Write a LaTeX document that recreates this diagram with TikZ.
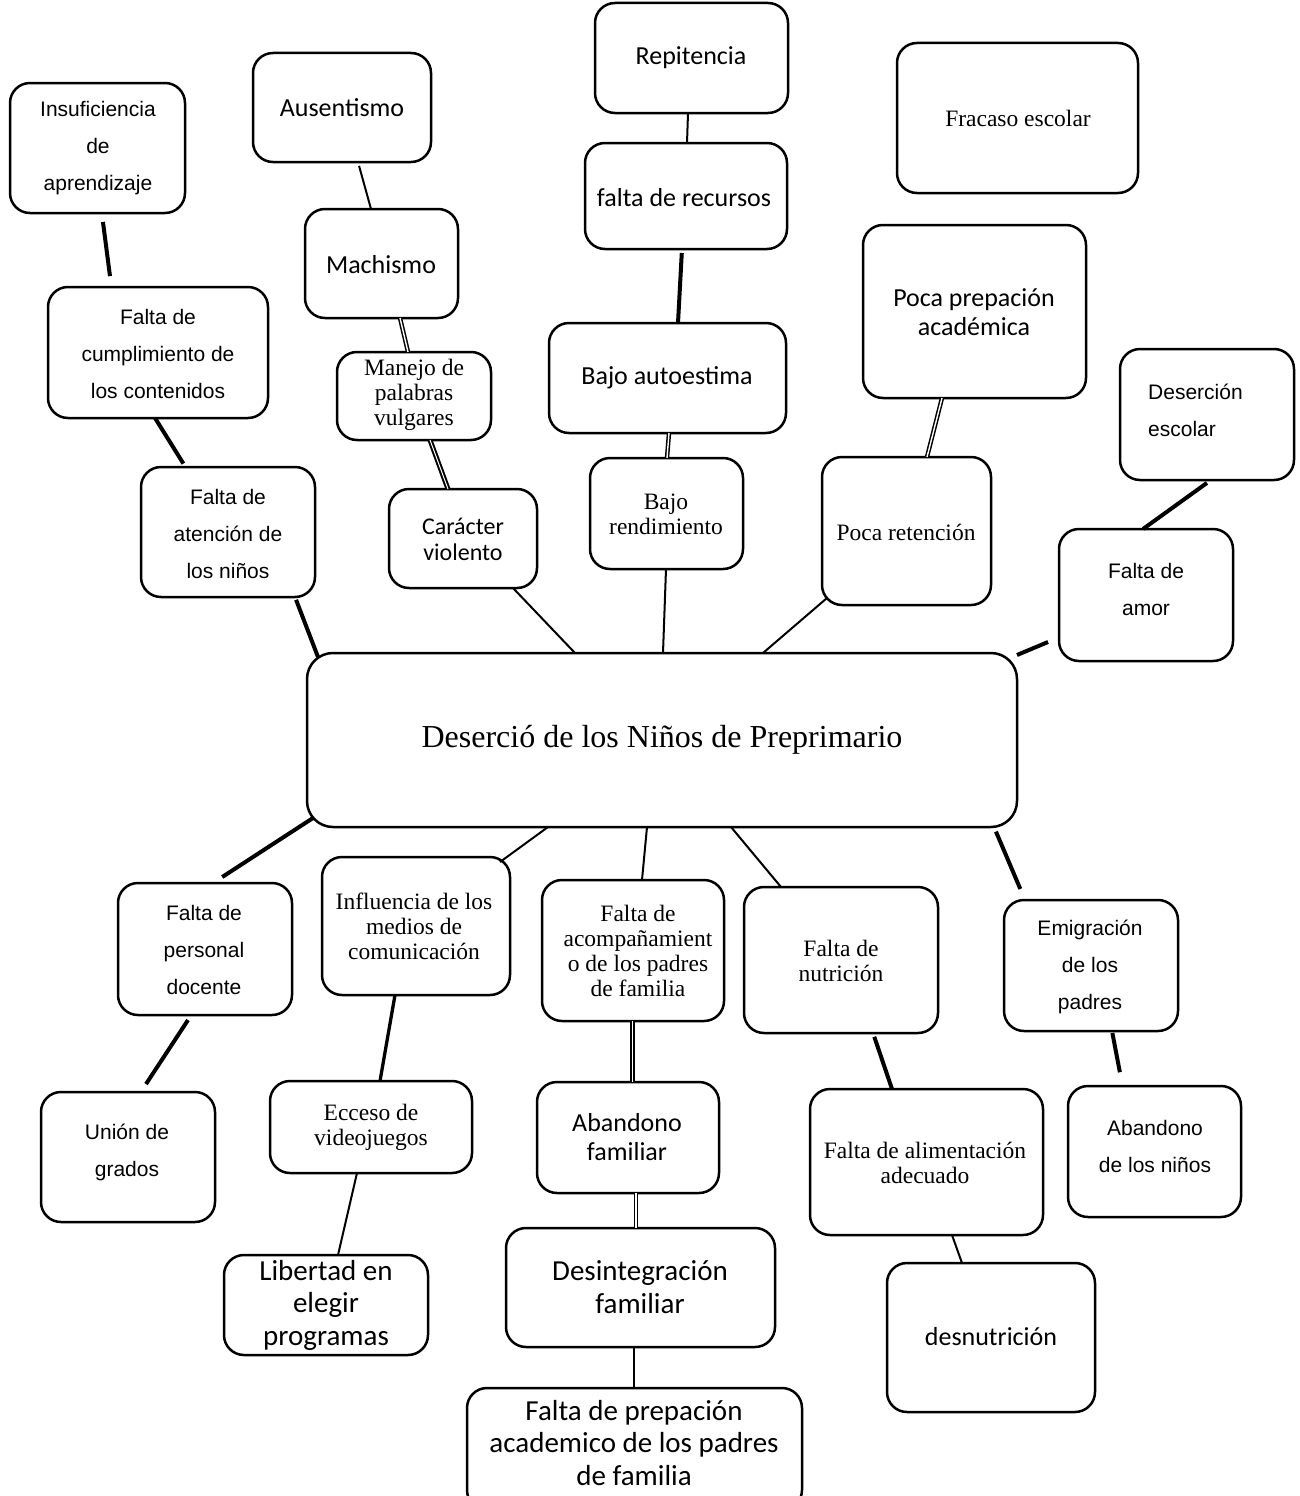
\documentclass[tikz,border=0pt]{standalone}
\usepackage{fontspec}
\setmainfont{Liberation Serif}
\newfontfamily\arialf{Liberation Sans}
\newfontfamily\calf{Carlito}
\tikzset{
 box/.style={draw, line width=2.5pt, rounded corners=20pt, inner sep=0pt, outer sep=0pt},
 ar/.style={font=\arialf\fontsize{21}{37}\selectfont, align=center, inner sep=0pt},
 tr/.style={font=\fontsize{23.5}{25}\selectfont, align=center, inner sep=0pt},
 trb/.style={font=\fontsize{32}{36}\selectfont, align=center, inner sep=0pt},
 ca/.style={font=\calf\fontsize{26}{29}\selectfont, align=center, inner sep=0pt},
 cs/.style={font=\calf\fontsize{24}{26}\selectfont, align=center, inner sep=0pt},
 cb/.style={font=\calf\fontsize{29}{32.5}\selectfont, align=center, inner sep=0pt},
 con/.style={line width=2pt},
 thk/.style={line width=4pt},
 dbl/.style={double, double distance=1.4pt, line width=1.5pt},
 dblh/.style={double, double distance=1pt, line width=2pt},
}
% name, x1, y1, x2, y2, text style, text x, text y, text
\newcommand\bx[9]{%
 \node[box, minimum width={(#4-#2)*1pt}, minimum height={(#5-#3)*1pt}] (#1) at ({(#2+#4)/2},{(#3+#5)/2}) {};
 \node[#6] (#1t) at (#7,#8) {#9};}
\begin{document}
\begin{tikzpicture}[x=1pt,y=-1pt]
\useasboundingbox (0,0) rectangle (1299,1496);
% top half
\bx{ins}{10}{83}{185}{213}{ar}{98}{148.5}{Insuficiencia\\de\\aprendizaje}
\bx{aus}{253}{53}{431}{162}{ca}{342}{108}{Ausentismo}
\bx{mach}{305}{209}{458}{318}{ca}{381}{265}{Machismo}
\bx{rep}{595}{3}{788}{113}{ca}{691}{58}{Repitencia}
\bx{rec}{585}{143}{787}{249}{ca}{684}{198}{falta de recursos}
\bx{frac}{897}{43}{1138}{193}{tr}{1018}{118}{Fracaso escolar}
\bx{pprep}{863}{225}{1086}{398}{ca}{974}{312}{Poca prepación\\académica}
\bx{cump}{48}{287}{268}{418}{ar}{158}{353.5}{Falta de\\cumplimiento de\\los contenidos}
\bx{man}{337}{352}{491}{440}{tr}{414}{395}{Manejo de\\palabras\\vulgares}
\bx{baut}{549}{323}{786}{433}{ca}{667}{378}{Bajo autoestima}
\bx{dese}{1120}{349}{1294}{480}{ar,align=left,anchor=west}{1148}{410}{Deserción\\escolar}
\bx{atn}{141}{467}{315}{597}{ar}{228}{533.5}{Falta de\\atención de\\los niños}
\bx{car}{389}{489}{537}{588}{cs}{463}{539}{Carácter\\violento}
\bx{brend}{590}{458}{743}{569}{tr}{666}{514.5}{Bajo\\rendimiento}
\bx{pret}{822}{457}{991}{605}{tr}{906}{532}{Poca retención}
\bx{amor}{1059}{529}{1233}{661}{ar}{1146}{589}{Falta de\\amor}
% central
\node[box, rounded corners=26pt, minimum width=710pt, minimum height=174pt] (cen) at (662,740) {};
\node[trb] (cent) at (662,740) {Deserció de los Niños de Preprimario};
% bottom half
\bx{fpers}{118}{883}{292}{1015}{ar}{204}{950}{Falta de\\personal\\docente}
\bx{infl}{322}{857}{510}{995}{tr}{414}{926}{Influencia de los\\medios de\\comunicación}
\bx{acomp}{542}{880}{724}{1021}{tr}{638}{950.5}{Falta de\\acompañamient\\o de los padres\\de familia}
\bx{nutr}{744}{887}{938}{1033}{tr}{841}{960.5}{Falta de\\nutrición}
\bx{emig}{1004}{900}{1178}{1031}{ar}{1090}{967}{Emigración\\de los\\padres}
\bx{union}{41}{1092}{215}{1222}{ar}{127}{1152.5}{Unión de\\grados}
\bx{ecc}{270}{1081}{472}{1173}{tr}{371}{1127}{Ecceso de\\videojuegos}
\bx{abfam}{537}{1082}{719}{1193}{ca}{627}{1137.5}{Abandono\\familiar}
\bx{alim}{810}{1089}{1043}{1235}{tr}{925}{1162.5}{Falta de alimentación\\adecuado}
\bx{abnin}{1068}{1086}{1241}{1217}{ar}{1155}{1146.5}{Abandono\\de los niños}
\bx{lib}{224}{1255}{428}{1355}{cb}{326}{1305}{Libertad en\\elegir\\programas}
\bx{desint}{506}{1228}{775}{1347}{cb}{640}{1287}{Desintegración\\familiar}
\bx{desn}{887}{1263}{1095}{1412}{ca}{991}{1337}{desnutrición}
\bx{fprep}{467}{1388}{802}{1510}{cb}{634}{1443}{Falta de prepación\\academico de los padres\\de familia}
% connectors
\draw[thk, shorten <=9pt, shorten >=11pt] ([xshift=4.3pt]ins.south) -- ([xshift=-46.6pt]cump.north);
\draw[thk, shorten >=4pt] ([xshift=-3pt]cump.south) -- ([xshift=-42.5pt]atn.north);
\draw[thk, shorten <=3pt] ([xshift=67pt]atn.south) -- ([xshift=-344pt,yshift=-4pt]cen.north);
\draw[con, shorten <=4pt] ([xshift=16pt]aus.south) -- ([xshift=-10.5pt]mach.north);
\draw[dbl] ([xshift=18.5pt]mach.south) -- ([xshift=-6pt]man.north);
\draw[dblh] ([xshift=16pt]man.south) -- ([xshift=-15pt]car.north);
\draw[con] ([xshift=50pt]car.south) -- ([xshift=-87pt]cen.north);
\draw[con] ([xshift=-3.5pt]rep.south) -- ([xshift=1pt]rec.north);
\draw[thk, shorten <=4pt] ([xshift=-4pt]rec.south) -- ([xshift=10.5pt]baut.north);
\draw[dbl] ([xshift=1.5pt]baut.south) -- ([xshift=0.5pt]brend.north);
\draw[con] ([xshift=-0.5pt]brend.south) -- ([xshift=1pt]cen.north);
\draw[dbl] ([xshift=-32.5pt]pprep.south) -- ([xshift=20.5pt]pret.north);
\draw[con] ([xshift=-79.5pt,yshift=7pt]pret.south) -- ([xshift=101pt]cen.north);
\draw[thk, shorten <=5pt] ([xshift=4pt]dese.south) -- ([xshift=-3pt]amor.north);
\draw[thk, shorten <=11.9pt] ([yshift=-42.4pt]amor.west) -- ([yshift=85pt]cen.east);
\draw[thk, shorten >=11pt] ([xshift=6pt,yshift=-78pt]cen.west) -- ([xshift=8pt]fpers.north);
\draw[con] ([xshift=-114pt]cen.south) -- ([xshift=84pt,yshift=-5pt]infl.north);
\draw[con] ([xshift=-15pt]cen.south) -- ([xshift=9pt]acomp.north);
\draw[con] ([xshift=69pt]cen.south) -- ([xshift=-60pt]nutr.north);
\draw[thk, shorten <=5pt, shorten >=12pt] ([xshift=332pt]cen.south) -- ([xshift=-66pt]emig.north);
\draw[thk, shorten <=6pt, shorten >=9.5pt] ([xshift=-13.7pt]fpers.south) -- ([xshift=12.8pt]union.north);
\draw[line width=3.3pt] ([xshift=-21pt]infl.south) -- ([xshift=9pt]ecc.north);
\draw[dblh] ([xshift=-1pt]acomp.south) -- ([xshift=4pt]abfam.north);
\draw[thk, shorten <=4pt] ([xshift=32pt]nutr.south) -- ([xshift=-34.5pt]alim.north);
\draw[thk, shorten <=2pt, shorten >=14pt] ([xshift=21pt]emig.south) -- ([xshift=-32pt]abnin.north);
\draw[con] ([xshift=-14pt]ecc.south) -- ([xshift=12pt]lib.north);
\draw[dbl] ([xshift=8pt]abfam.south) -- ([xshift=-4.5pt]desint.north);
\draw[con] ([xshift=-6.5pt]desint.south) -- ([xshift=-0.5pt]fprep.north);
\draw[con] ([xshift=25.5pt]alim.south) -- ([xshift=-29pt]desn.north);
\end{tikzpicture}
\end{document}
